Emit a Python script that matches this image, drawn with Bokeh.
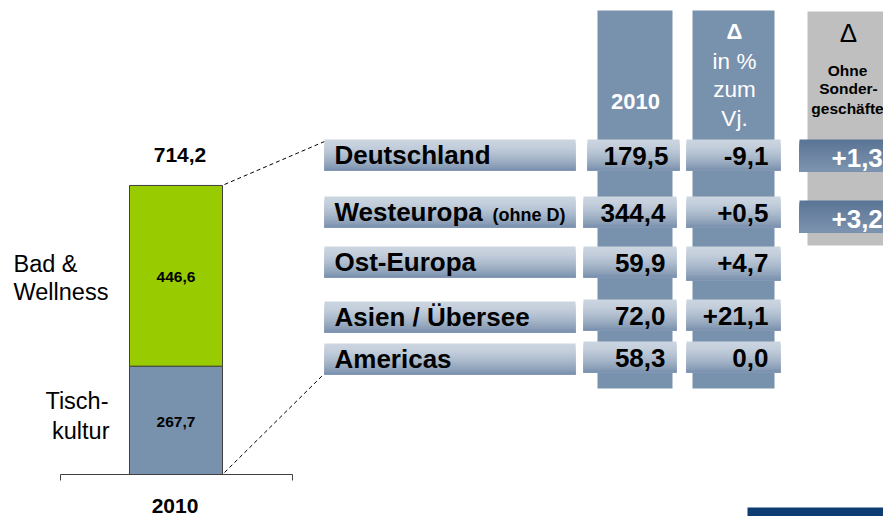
from bokeh.plotting import figure
from bokeh.models import Range1d, ColumnDataSource
from bokeh.core.properties import value
from bokeh.embed import file_html
from bokeh.resources import INLINE

# ---------------- data ----------------
year = "2010"
segments = ["Tisch-\nkultur", "Bad &\nWellness"]
segment_values = [267.7, 446.6]
segment_colors = ["#7891ad", "#99cc00"]
total_value = 714.2

regions = ["Deutschland", "Westeuropa", "Ost-Europa", "Asien / Übersee", "Americas"]
region_notes = ["", "(ohne D)", "", "", ""]
sales_2010 = [179.5, 344.4, 59.9, 72.0, 58.3]
change_pct = [-9.1, 0.5, 4.7, 21.1, 0.0]
change_excl = [1.3, 3.2]

hdr_col1 = ["2010"]
hdr_col2 = ["Δ", "in %", "zum", "Vj."]
hdr_col3 = ["Δ", "Ohne", "Sonder-", "geschäfte"]

FONT = value("Liberation Sans")


def de(v, sign=False):
    s = f"{abs(v):.1f}".replace(".", ",")
    if sign:
        if v > 0:
            return "+" + s
        if v < 0:
            return "-" + s
        return s
    return ("-" if v < 0 else "") + s


W, H = 883, 516
p = figure(width=W, height=H, output_backend="svg", toolbar_location=None,
           x_range=Range1d(0, W), y_range=Range1d(H, 0), min_border=0)
p.axis.visible = False
p.grid.visible = False
p.outline_line_color = None
p.background_fill_color = "white"
p.border_fill_color = "white"

# value scale for the stacked bar: 0 at y=474, total at y=185
BASE_Y = 474.0
PX_PER_UNIT = 289.0 / total_value
p.extra_y_ranges = {"val": Range1d(start=(BASE_Y - H) / PX_PER_UNIT,
                                   end=BASE_Y / PX_PER_UNIT)}


def page_y(v):
    return BASE_Y - v * PX_PER_UNIT


TXT = dict(text_font=FONT, text_baseline="middle")

# ---------------- stacked bar ----------------
bar_x, bar_w = 175.5, 93
bottoms, tops = [], []
acc = 0.0
for v in segment_values:
    bottoms.append(acc)
    acc += v
    tops.append(acc)
bar_src = ColumnDataSource(dict(x=[bar_x] * len(segment_values), bottom=bottoms, top=tops,
                                color=segment_colors,
                                mid=[(b + t) / 2 for b, t in zip(bottoms, tops)],
                                lab=[de(v) for v in segment_values]))
p.vbar(x="x", width=bar_w, bottom="bottom", top="top", fill_color="color",
       line_color="#404040", line_width=1, source=bar_src, y_range_name="val")
p.text(x="x", y="mid", text="lab", source=bar_src, y_range_name="val",
       text_font_style="bold", text_font_size="15.5px", text_align="center",
       y_offset=1.5, text_color="black", **TXT)
p.text(x=[bar_x + 4], y=[total_value], text=[de(total_value)], y_range_name="val",
       text_font_style="bold", text_font_size="21px", text_align="center",
       y_offset=-30.5, text_color="black", **TXT)

# baseline axis
p.segment(x0=[60], y0=[0], x1=[292], y1=[0], y_range_name="val", line_color="#404040", line_width=1)
p.segment(x0=[60, 292], y0=[BASE_Y, BASE_Y], x1=[60, 292], y1=[BASE_Y + 6, BASE_Y + 6],
          line_color="#404040", line_width=1)
p.text(x=[174.5], y=[505.5], text=[year], text_font_style="bold", text_font_size="21px",
       text_align="center", text_color="black", **TXT)

# segment labels on the left
p.text(x=[13, 13], y=[263.5, 291.5], text=segments[1].split("\n"), text_font_size="23.5px",
       text_align="left", text_color="black", **TXT)
p.text(x=[108, 109], y=[400.5, 430.5], text=segments[0].split("\n"), text_font_size="23.5px",
       text_align="right", text_color="black", **TXT)

# dashed connectors
top_y = page_y(total_value)
p.segment(x0=[224, 224], y0=[top_y - 1, BASE_Y - 2], x1=[324, 323], y1=[141, 374],
          line_color="black", line_width=1, line_dash="4 3")

# ---------------- table ----------------
p.quad(left=[597, 692], right=[672, 774], top=[10, 10], bottom=[388, 388],
       fill_color="#7891ad", line_color=None)
p.quad(left=[807], right=[900], top=[11], bottom=[245], fill_color="#bfbfbf", line_color=None)


def mix(c1, c2, t):
    return "#%02x%02x%02x" % tuple(int(round(a + (b - a) * t)) for a, b in zip(c1, c2))


grad = dict(left=[], right=[], top=[], bottom=[], color=[])


def gradient(l, r, t, b, c_top, c_bot, power=1.6, n=16):
    h = (b - t) / n
    for i in range(n):
        f = (i + 0.5) / n
        grad["left"].append(l)
        grad["right"].append(r)
        grad["top"].append(t + i * h)
        grad["bottom"].append(b)
        grad["color"].append(mix(c_top, c_bot, f ** power))


LIGHT = (203, 213, 224)
DARK = (120, 143, 172)
label_tops = [139, 196, 246, 301, 343]
cell_tops = [139, 196, 246, 299, 341]
col1_x = [(587, 679), (583, 676), (583, 676), (583, 676), (583, 676)]
col2_x = (686, 780)
for i in range(len(regions)):
    gradient(324, 575, label_tops[i], label_tops[i] + 31, LIGHT, DARK)
    gradient(col1_x[i][0], col1_x[i][1], cell_tops[i], cell_tops[i] + 31, LIGHT, DARK)
    gradient(col2_x[0], col2_x[1], cell_tops[i], cell_tops[i] + (34 if i == 2 else 31), LIGHT, DARK)
excl_tops = [139, 200]
for i in range(len(change_excl)):
    gradient(799, 900, excl_tops[i], excl_tops[i] + 32, (90, 116, 148), (126, 148, 176), power=1.0)
p.quad(left="left", right="right", top="top", bottom="bottom", fill_color="color",
       line_color=None, source=ColumnDataSource(grad))

# row labels
p.text(x=[334] * len(regions), y=[t + 15.5 for t in label_tops], text=regions,
       text_font_style="bold", text_font_size="26px", text_align="left", text_color="black", **TXT)
p.text(x=[492], y=[label_tops[1] + 18.5], text=[region_notes[1]], text_font_style="bold",
       text_font_size="18px", text_align="left", text_color="black", **TXT)

# values
p.text(x=[668, 665, 665, 665, 665], y=[t + 16.5 for t in cell_tops], text=[de(v) for v in sales_2010],
       text_font_style="bold", text_font_size="26px", text_align="right", text_color="black", **TXT)
p.text(x=[768] * len(change_pct), y=[t + 16.5 for t in cell_tops],
       text=[de(v, sign=True) for v in change_pct], text_font_style="bold",
       text_font_size="26px", text_align="right", text_color="black", **TXT)
p.text(x=[831] * len(change_excl), y=[t + 18.5 for t in excl_tops],
       text=[de(v, sign=True) for v in change_excl], text_font_style="bold",
       text_font_size="26px", text_align="left", text_color="white", **TXT)

# headers
p.text(x=[635], y=[101], text=hdr_col1, text_font_style="bold", text_font_size="22px",
       text_align="center", text_color="white", **TXT)
p.text(x=[734], y=[30.5], text=hdr_col2[:1], text_font_style="bold", text_font_size="22px",
       text_align="center", text_color="white", **TXT)
p.text(x=[734, 734, 734], y=[60.5, 89, 117.5], text=hdr_col2[1:], text_font_size="22.5px",
       text_align="center", text_color="white", **TXT)
p.text(x=[848], y=[32.5], text=hdr_col3[:1], text_font_size="26px",
       text_align="center", text_color="black", **TXT)
p.text(x=[847, 848, 847], y=[69.5, 87.5, 107.5], text=hdr_col3[1:], text_font_style="bold",
       text_font_size="15.5px", text_align="center", text_color="black", **TXT)

# bottom-right accent bar
p.quad(left=[747], right=[900], top=[507], bottom=[520], fill_color="#0d3c73", line_color=None)

open("out.html", "w").write(file_html(p, INLINE))
